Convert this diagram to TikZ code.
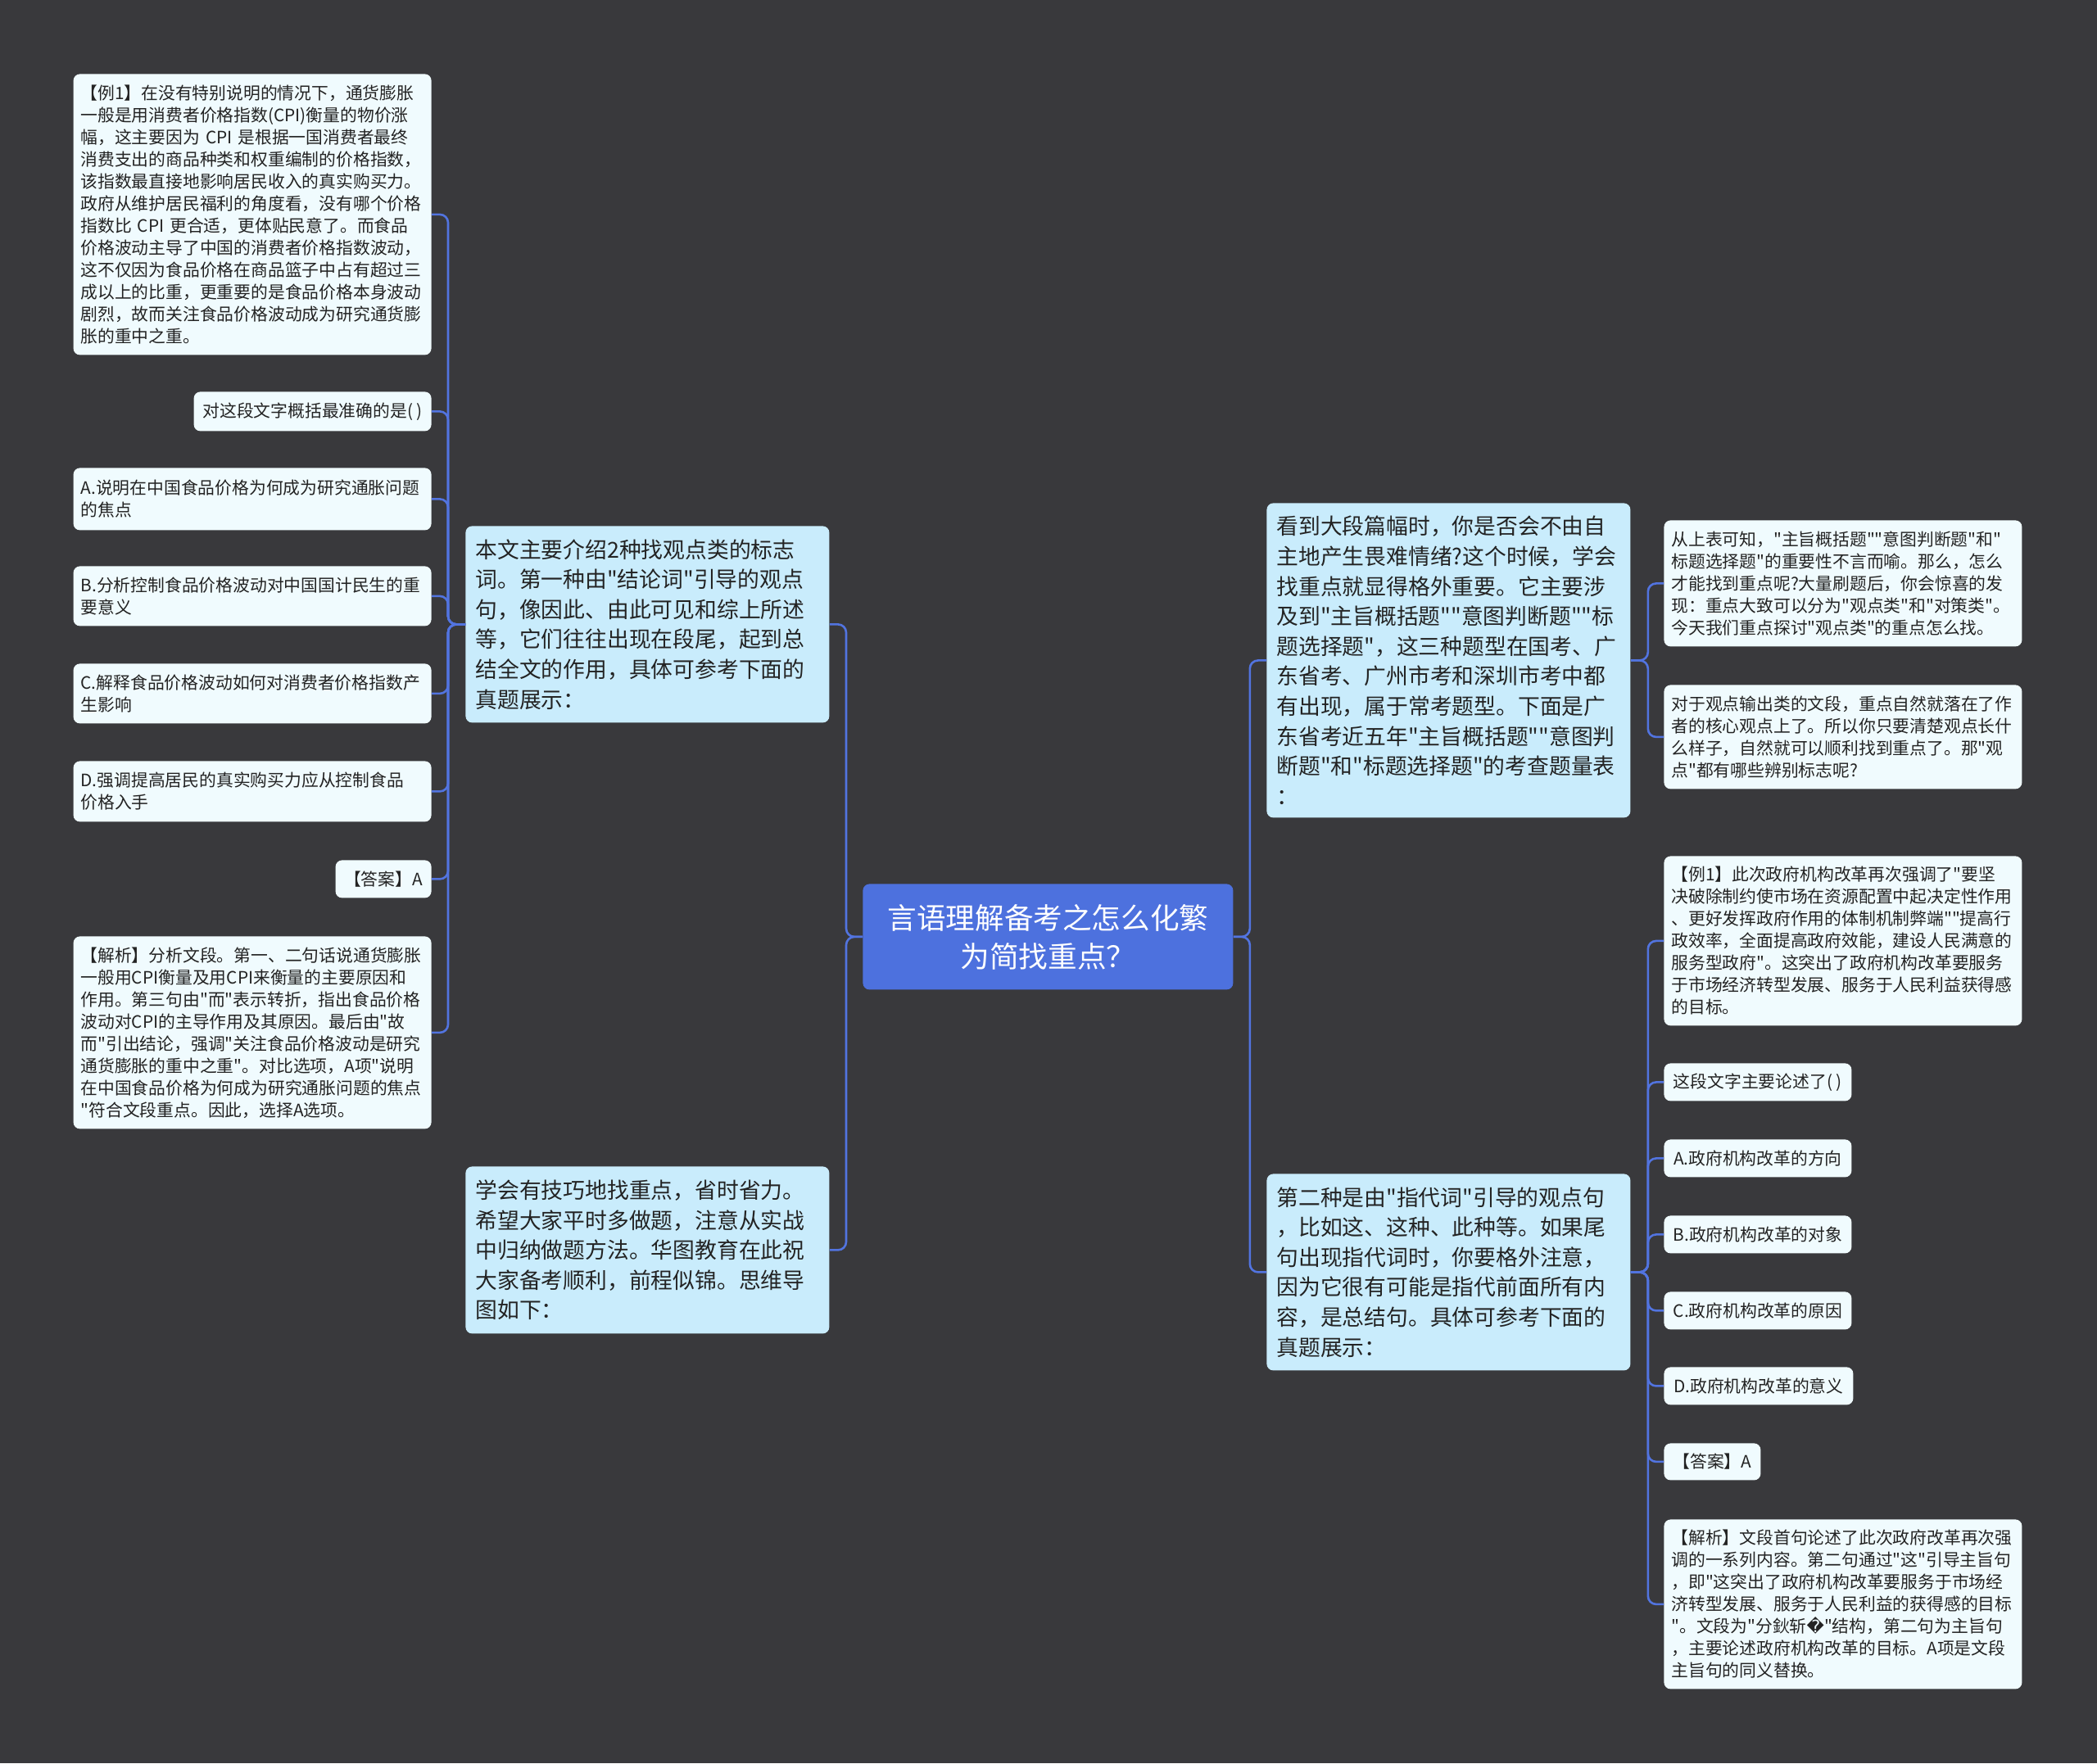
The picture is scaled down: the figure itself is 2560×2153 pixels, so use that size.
\documentclass[tikz,border=0pt]{standalone}
\usepackage{fontspec}
\setmainfont{Noto Sans CJK SC}[Ligatures=TeXOff]
\newfontfamily\dejavu{DejaVu Sans}
\usetikzlibrary{positioning, backgrounds, calc}

\definecolor{bgdark}{RGB}{57,57,60}
\definecolor{rootblue}{RGB}{77,113,222}
\definecolor{topicblue}{RGB}{201,236,252}
\definecolor{leafwhite}{RGB}{240,251,254}
\definecolor{linkblue}{RGB}{82,116,224}
\definecolor{inkdark}{RGB}{35,35,35}

\tikzset{
    box/.style={rounded corners=4pt, inner ysep=0pt, anchor=north west},
    rootbox/.style={box, fill=rootblue, text=white, align=center,
        font=\fontsize{17.8pt}{23.5pt}\selectfont, minimum width=226pt, minimum height=64.5pt},
    topicbox/.style={box, fill=topicblue, text=inkdark, align=left, inner xsep=6pt,
        text width=210pt, minimum width=222pt, font=\fontsize{13.4pt}{18.3pt}\selectfont},
    leafbox/.style={box, fill=leafwhite, text=inkdark, align=left, inner xsep=4.5pt,
        font=\fontsize{10.4pt}{13.5pt}\selectfont},
    wideleaf/.style={leafbox, text width=209.5pt, minimum width=218.5pt},
    link/.style={draw=linkblue, line width=1.3pt, rounded corners=5pt},
}

\begin{document}
\begin{tikzpicture}[x=0.5pt, y=-0.5pt]
    \fill[bgdark] (0,0) rectangle (2560,2153);
    \useasboundingbox (0,0) rectangle (2560,2153);

    % root
    \node[rootbox] (root) at (1053,1079) {言语理解备考之怎么化繁\\为简找重点？};

    % left topics
    \node[topicbox, minimum height=120pt] (intro) at (568,642) {本文主要介绍2种找观点类的标志\\词。第一种由"结论词"引导的观点\\句，像因此、由此可见和综上所述\\等，它们往往出现在段尾，起到总\\结全文的作用，具体可参考下面的\\真题展示：};
    \node[topicbox, minimum height=102pt] (outro) at (568,1424) {学会有技巧地找重点，省时省力。\\希望大家平时多做题，注意从实战\\中归纳做题方法。华图教育在此祝\\大家备考顺利，前程似锦。思维导\\图如下：};

    % right topics
    \node[topicbox, minimum height=192pt] (overview) at (1546,614) {看到大段篇幅时，你是否会不由自\\主地产生畏难情绪?这个时候，学会\\找重点就显得格外重要。它主要涉\\及到"主旨概括题""意图判断题""标\\题选择题"，这三种题型在国考、广\\东省考、广州市考和深圳市考中都\\有出现，属于常考题型。下面是广\\东省考近五年"主旨概括题""意图判\\断题"和"标题选择题"的考查题量表\\：};
    \node[topicbox, minimum height=120pt] (second) at (1546,1433) {第二种是由"指代词"引导的观点句\\，比如这、这种、此种等。如果尾\\句出现指代词时，你要格外注意，\\因为它很有可能是指代前面所有内\\容，是总结句。具体可参考下面的\\真题展示：};

    % left leaves
    \node[wideleaf, anchor=north east, minimum height=171.5pt] (exone) at (527,90) {【例1】在没有特别说明的情况下，通货膨胀\\一般是用消费者价格指数(CPI)衡量的物价涨\\幅，这主要因为 CPI 是根据一国消费者最终\\消费支出的商品种类和权重编制的价格指数，\\该指数最直接地影响居民收入的真实购买力。\\政府从维护居民福利的角度看，没有哪个价格\\指数比 CPI 更合适，更体贴民意了。而食品\\价格波动主导了中国的消费者价格指数波动，\\这不仅因为食品价格在商品篮子中占有超过三\\成以上的比重，更重要的是食品价格本身波动\\剧烈，故而关注食品价格波动成为研究通货膨\\胀的重中之重。};
    \node[leafbox, anchor=north east, minimum width=145pt, minimum height=24pt] (qone) at (527,478) {对这段文字概括最准确的是( )};
    \node[wideleaf, anchor=north east, minimum height=38pt] (aone) at (527,571) {A.说明在中国食品价格为何成为研究通胀问题\\的焦点};
    \node[wideleaf, anchor=north east, minimum height=36.5pt] (bone) at (527,691) {B.分析控制食品价格波动对中国国计民生的重\\要意义};
    \node[wideleaf, anchor=north east, minimum height=36.5pt] (cone) at (527,810) {C.解释食品价格波动如何对消费者价格指数产\\生影响};
    \node[wideleaf, anchor=north east, minimum height=37pt] (done) at (527,929) {D.强调提高居民的真实购买力应从控制食品\\价格入手};
    \node[leafbox, anchor=north east, minimum width=58.5pt, minimum height=23pt] (ansone) at (527,1050) {【答案】A};
    \node[wideleaf, anchor=north east, minimum height=117.5pt] (anaone) at (527,1143) {【解析】分析文段。第一、二句话说通货膨胀\\一般用CPI衡量及用CPI来衡量的主要原因和\\作用。第三句由"而"表示转折，指出食品价格\\波动对CPI的主导作用及其原因。最后由"故\\而"引出结论，强调"关注食品价格波动是研究\\通货膨胀的重中之重"。对比选项，A项"说明\\在中国食品价格为何成为研究通胀问题的焦点\\"符合文段重点。因此，选择A选项。};

    % right leaves
    \node[wideleaf, minimum height=77pt] (known) at (2031,635) {从上表可知，"主旨概括题""意图判断题"和"\\标题选择题"的重要性不言而喻。那么，怎么\\才能找到重点呢?大量刷题后，你会惊喜的发\\现：重点大致可以分为"观点类"和"对策类"。\\今天我们重点探讨"观点类"的重点怎么找。};
    \node[wideleaf, minimum height=63.5pt] (opinion) at (2031,836) {对于观点输出类的文段，重点自然就落在了作\\者的核心观点上了。所以你只要清楚观点长什\\么样子，自然就可以顺利找到重点了。那"观\\点"都有哪些辨别标志呢?};
    \node[wideleaf, minimum height=103.5pt] (extwo) at (2031,1045) {【例1】此次政府机构改革再次强调了"要坚\\决破除制约使市场在资源配置中起决定性作用\\、更好发挥政府作用的体制机制弊端""提高行\\政效率，全面提高政府效能，建设人民满意的\\服务型政府"。这突出了政府机构改革要服务\\于市场经济转型发展、服务于人民利益获得感\\的目标。};
    \node[leafbox, minimum width=114.5pt, minimum height=23pt] (qtwo) at (2031,1298) {这段文字主要论述了( )};
    \node[leafbox, minimum width=114.5pt, minimum height=23pt] (atwo) at (2031,1391) {A.政府机构改革的方向};
    \node[leafbox, minimum width=114.5pt, minimum height=23pt] (btwo) at (2031,1484) {B.政府机构改革的对象};
    \node[leafbox, minimum width=114.5pt, minimum height=23pt] (ctwo) at (2031,1577) {C.政府机构改革的原因};
    \node[leafbox, minimum width=115.5pt, minimum height=23pt] (dtwo) at (2031,1669) {D.政府机构改革的意义};
    \node[leafbox, minimum width=59pt, minimum height=22.5pt] (anstwo) at (2031,1762) {【答案】A};
    \node[wideleaf, minimum height=103.5pt] (anatwo) at (2031,1855) {【解析】文段首句论述了此次政府改革再次强\\调的一系列内容。第二句通过"这"引导主旨句\\，即"这突出了政府机构改革要服务于市场经\\济转型发展、服务于人民利益的获得感的目标\\"。文段为"分鈥斩{\dejavu �}"结构，第二句为主旨句\\，主要论述政府机构改革的目标。A项是文段\\主旨句的同义替换。};

    % connectors
    \foreach \kid in {intro, outro}
        \draw[link] (root.west) -- ++(-10pt,0) |- (\kid.east);
    \foreach \kid in {overview, second}
        \draw[link] (root.east) -- ++(10pt,0) |- (\kid.west);
    \foreach \kid in {exone, qone, aone, bone, cone, done, ansone, anaone}
        \draw[link] (intro.west) -- ++(-10.5pt,0) |- (\kid.east);
    \foreach \kid in {known, opinion}
        \draw[link] (overview.east) -- ++(10.5pt,0) |- (\kid.west);
    \foreach \kid in {extwo, qtwo, atwo, btwo, ctwo, dtwo, anstwo, anatwo}
        \draw[link] (second.east) -- ++(10.5pt,0) |- (\kid.west);
\end{tikzpicture}
\end{document}
